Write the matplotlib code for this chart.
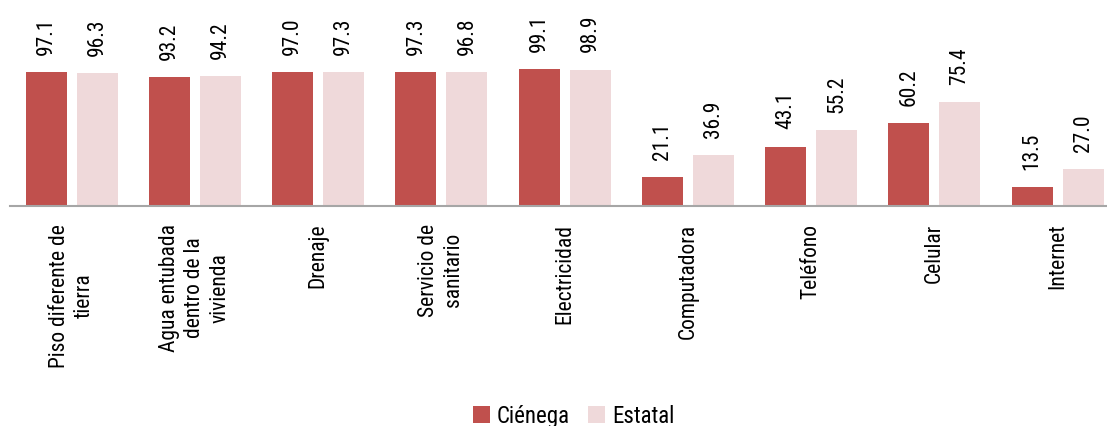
import numpy as np
import matplotlib
matplotlib.use("Agg")
import matplotlib.pyplot as plt

plt.rcParams['font.family'] = ['Roboto Condensed', 'DejaVu Sans']

categories = ["Piso diferente de\ntierra", "Agua entubada\ndentro de la\nvivienda", "Drenaje",
              "Servicio de\nsanitario", "Electricidad", "Computadora", "Teléfono", "Celular", "Internet"]
cienega = [97.1, 93.2, 97.0, 97.3, 99.1, 21.1, 43.1, 60.2, 13.5]
estatal = [96.3, 94.2, 97.3, 96.8, 98.9, 36.9, 55.2, 75.4, 27.0]

c_dark = '#c0504d'
c_light = '#efd9da'

fig = plt.figure(figsize=(11.07, 4.27), dpi=100)
ax = fig.add_axes([10 / 1107, 220 / 427, 1097 / 1107, 207 / 427])

x = np.arange(len(categories))
w = 0.333
off = 0.207
b1 = ax.bar(x - off, cienega, w, color=c_dark, label='Ciénega')
b2 = ax.bar(x + off, estatal, w, color=c_light, label='Estatal')

for bars, vals in ((b1, cienega), (b2, estatal)):
    for rect, v in zip(bars, vals):
        ax.annotate(f"{v:.1f}", (rect.get_x() + rect.get_width() / 2, v),
                    xytext=(0, 13), textcoords='offset points',
                    rotation=90, ha='center', va='bottom', fontsize=15.5)

ax.set_xlim(-0.5, 8.4)
ax.set_ylim(0, 150)
ax.set_xticks(x)
ax.set_xticklabels(categories, rotation=90, ha='center', va='top', fontsize=15.5,
                   multialignment='center', linespacing=1.25)
ax.tick_params(axis='x', length=0, pad=12)
ax.set_yticks([])
for s in ('top', 'right', 'left'):
    ax.spines[s].set_visible(False)
ax.spines['bottom'].set_color('#a6a6a6')
ax.spines['bottom'].set_linewidth(1.5)

fig.legend(handles=[b1, b2], loc='center', bbox_to_anchor=(0.518, 10 / 427), ncol=2,
           frameon=False, fontsize=16.5, handlelength=0.75, handleheight=0.75,
           columnspacing=0.8, handletextpad=0.3, borderpad=0)

fig.savefig('out.png', dpi=100)
